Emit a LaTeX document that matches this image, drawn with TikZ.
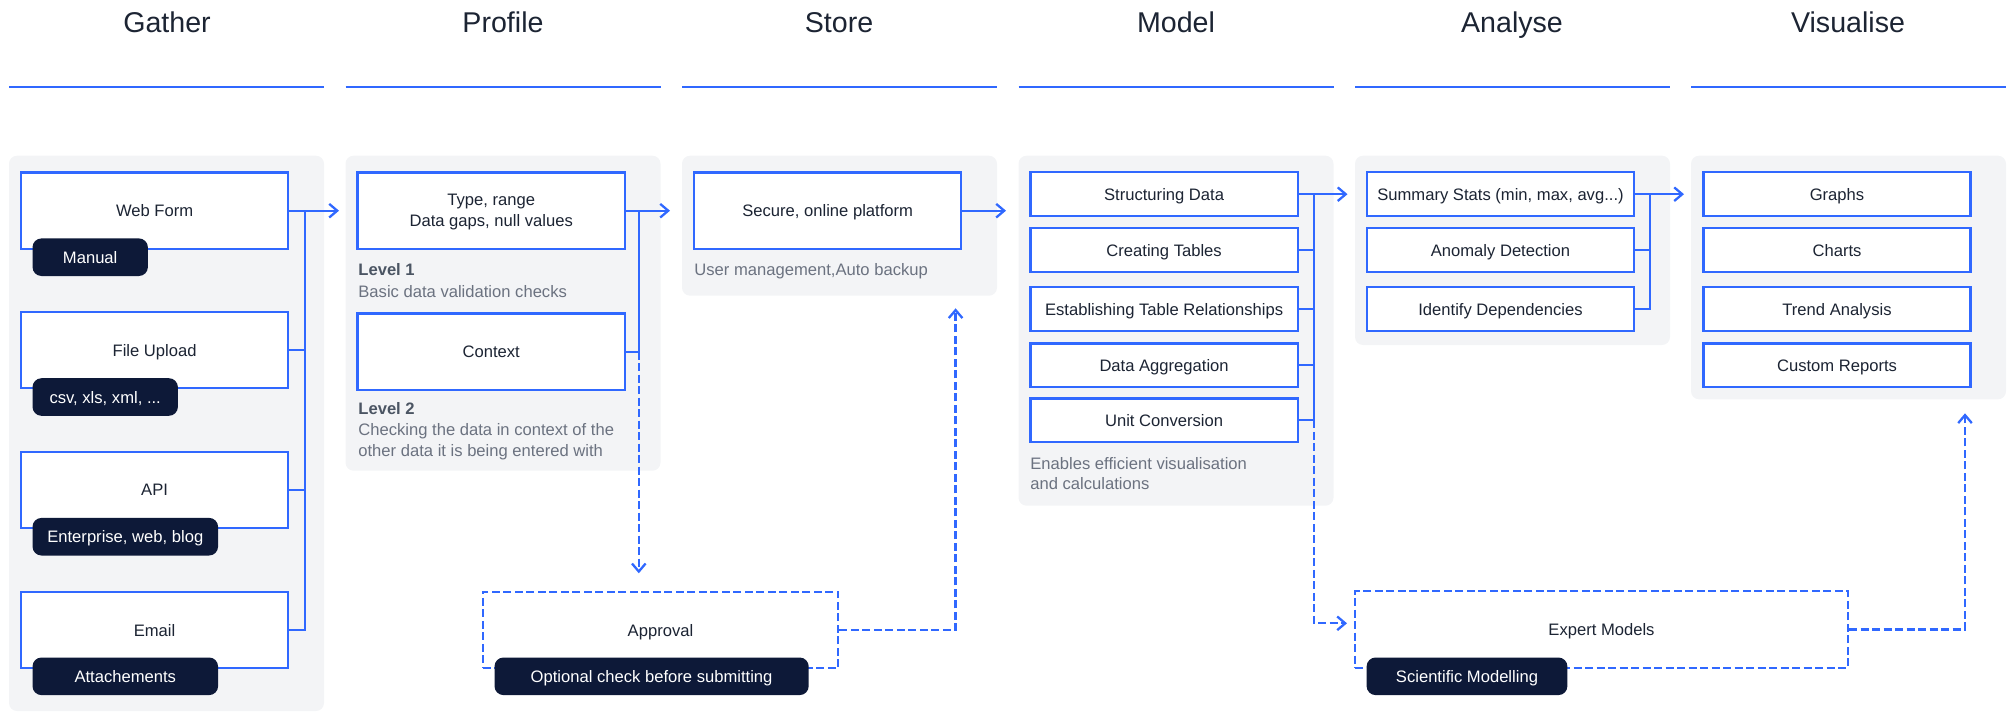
\documentclass[tikz,border=0pt]{standalone}
\usepackage{fontspec}
\setmainfont{Liberation Sans}
\usetikzlibrary{arrows.meta}
\definecolor{flowblue}{HTML}{3068FF}
\definecolor{panelgray}{HTML}{F3F4F6}
\definecolor{pillnavy}{HTML}{0D1938}
\definecolor{inkdark}{HTML}{1C2433}
\definecolor{notegray}{HTML}{6B7280}
\definecolor{levelgray}{HTML}{4B5563}

\begin{document}
\begin{tikzpicture}[>={Straight Barb[length=4pt,width=6.8pt]}, x=0.5pt, y=-0.5pt,
    stagepanel/.style={fill=panelgray, rounded corners=4pt},
    hline/.style={flowblue, line width=1.15pt},
    stagetitle/.style={anchor=base, text=inkdark, font=\fontsize{14.3}{17}\selectfont},
    bigbox/.style={draw=flowblue, line width=1.15pt, fill=white, minimum width=133.6pt, minimum height=38.3pt,
        inner sep=2pt, text depth=0pt, text=inkdark, font=\fontsize{8.3}{10.5}\selectfont, align=center},
    smallbox/.style={bigbox, minimum height=21.9pt},
    dashbox/.style={bigbox, dash pattern=on 4pt off 1.75pt},
    pill/.style={fill=pillnavy, rounded corners=4.5pt, minimum height=18.8pt, inner sep=2pt, text depth=0pt,
        text=white, font=\fontsize{8.3}{10.5}\selectfont},
    note/.style={anchor=base west, inner sep=0pt, text=notegray, font=\fontsize{8.3}{10.5}\selectfont},
    link/.style={draw=flowblue, line width=1.15pt},
    dlink/.style={link, dash pattern=on 4pt off 1.75pt}]

    \useasboundingbox (0,0) rectangle (2015,712);

    \node[stagetitle] (tgather) at (167,32.3) {Gather};
    \node[stagetitle] (tprofile) at (503,32.3) {Profile};
    \node[stagetitle] (tstore) at (839,32.3) {Store};
    \node[stagetitle] (tmodel) at (1176,32.3) {Model};
    \node[stagetitle] (tanalyse) at (1512,32.3) {Analyse};
    \node[stagetitle] (tvisual) at (1848,32.3) {Visualise};

    \draw[hline] (9,87.3) -- (324,87.3);
    \draw[hline] (345.5,87.3) -- (660.5,87.3);
    \draw[hline] (682,87.3) -- (997,87.3);
    \draw[hline] (1018.5,87.3) -- (1333.5,87.3);
    \draw[hline] (1355,87.3) -- (1670,87.3);
    \draw[hline] (1691,87.3) -- (2006,87.3);

    \fill[stagepanel] (9,155.7) rectangle (324,711);
    \fill[stagepanel] (345.5,155.7) rectangle (660.5,470.7);
    \fill[stagepanel] (682,155.7) rectangle (997,295.7);
    \fill[stagepanel] (1018.5,155.7) rectangle (1333.5,505.7);
    \fill[stagepanel] (1355,155.7) rectangle (1670,345);
    \fill[stagepanel] (1691,155.7) rectangle (2006,399.3);

    \node[bigbox] (web) at (154.6,210.7) {Web Form};
    \node[pill, minimum width=57.7pt] (manual) at (90.2,257.2) {Manual};
    \node[bigbox] (file) at (154.6,350) {File Upload};
    \node[pill, minimum width=72.7pt] (csv) at (105.2,397) {csv, xls, xml, ...};
    \node[bigbox] (api) at (154.6,490) {API};
    \node[pill, minimum width=92.8pt] (ent) at (125.3,536.7) {Enterprise, web, blog};
    \node[bigbox] (email) at (154.6,630) {Email};
    \node[pill, minimum width=92.8pt] (attach) at (125.3,676.3) {Attachements};

    \coordinate (gbus) at (305,0);
    \coordinate (garr) at (339,210.7);
    \draw[link] (web.east) -- (web.east -| gbus) -- (email.east -| gbus) -- (email.east);
    \draw[link] (file.east) -- (file.east -| gbus);
    \draw[link] (api.east) -- (api.east -| gbus);
    \draw[link,->] (web.east -| gbus) -- (garr);

    \node[bigbox] (type) at (491.2,210.7) {Type, range\\Data gaps, null values};
    \node[note] (lvl1) at (358,275.6) {\textcolor{levelgray}{\bfseries Level 1}};
    \node[note] (lvl1txt) at (358,297) {Basic data validation checks};
    \node[bigbox] (ctx) at (491.2,351.7) {Context};
    \node[note] (lvl2) at (358,414) {\textcolor{levelgray}{\bfseries Level 2}};
    \node[note] (lvl2a) at (358,435.3) {Checking the data in context of the};
    \node[note] (lvl2b) at (358,456.3) {other data it is being entered with};

    \coordinate (pbus) at (638.8,0);
    \coordinate (parr) at (670,210.7);
    \coordinate (pdown) at (638.8,573.3);
    \draw[link] (type.east) -- (type.east -| pbus) -- (ctx.east -| pbus) -- (ctx.east);
    \draw[link,->] (type.east -| pbus) -- (parr);
    \draw[dlink,->] (ctx.east -| pbus) -- (pdown);

    \node[dashbox, minimum width=177.7pt] (appr) at (660.5,630) {Approval};
    \node[pill, minimum width=157.1pt] (optional) at (651.6,676.3) {Optional check before submitting};

    \node[bigbox] (secure) at (827.7,210.7) {Secure, online platform};
    \node[note] (backup) at (694,275.6) {User management,Auto backup};
    \coordinate (sarr) at (1006,210.7);
    \coordinate (sup) at (955.6,308.3);
    \draw[link,->] (secure.east) -- (sarr);
    \draw[dlink,->] (appr.east) -- (appr.east -| sup) -- (sup);

    \node[smallbox] (struct) at (1164.1,194.2) {Structuring Data};
    \node[smallbox] (tables) at (1164.1,250.2) {Creating Tables};
    \node[smallbox] (rel) at (1164.1,309.1) {Establishing Table Relationships};
    \node[smallbox] (agg) at (1164.1,365.3) {Data Aggregation};
    \node[smallbox] (unit) at (1164.1,420.3) {Unit Conversion};
    \node[note] (enable) at (1030,469) {Enables efficient visualisation};
    \node[note] (calc) at (1030,489) {and calculations};

    \coordinate (mbus) at (1314,0);
    \coordinate (marr) at (1347.5,194.2);
    \coordinate (mturn) at (1314,623.3);
    \coordinate (mexp) at (1347,623.3);
    \draw[link] (struct.east) -- (struct.east -| mbus) -- (unit.east -| mbus) -- (unit.east);
    \draw[link] (tables.east) -- (tables.east -| mbus);
    \draw[link] (rel.east) -- (rel.east -| mbus);
    \draw[link] (agg.east) -- (agg.east -| mbus);
    \draw[link,->] (struct.east -| mbus) -- (marr);
    \draw[dlink,->] (unit.east -| mbus) -- (mturn) -- (mexp);

    \node[smallbox] (stats) at (1500.5,194.2) {Summary Stats (min, max, avg...)};
    \node[smallbox] (anom) at (1500.5,250.2) {Anomaly Detection};
    \node[smallbox] (deps) at (1500.5,309.1) {Identify Dependencies};

    \coordinate (abus) at (1650,0);
    \coordinate (aarr) at (1684,194.2);
    \draw[link] (stats.east) -- (stats.east -| abus) -- (deps.east -| abus) -- (deps.east);
    \draw[link] (anom.east) -- (anom.east -| abus);
    \draw[link,->] (stats.east -| abus) -- (aarr);

    \node[smallbox] (graphs) at (1837,194.2) {Graphs};
    \node[smallbox] (charts) at (1837,250.2) {Charts};
    \node[smallbox] (trend) at (1837,309.1) {Trend Analysis};
    \node[smallbox] (custom) at (1837,365.3) {Custom Reports};

    \node[dashbox, minimum width=246.5pt] (expert) at (1601.5,629.4) {Expert Models};
    \node[pill, minimum width=100.4pt] (sci) at (1467,676.3) {Scientific Modelling};
    \coordinate (vup) at (1965,413.3);
    \draw[dlink,->] (expert.east) -- (expert.east -| vup) -- (vup);
\end{tikzpicture}
\end{document}
